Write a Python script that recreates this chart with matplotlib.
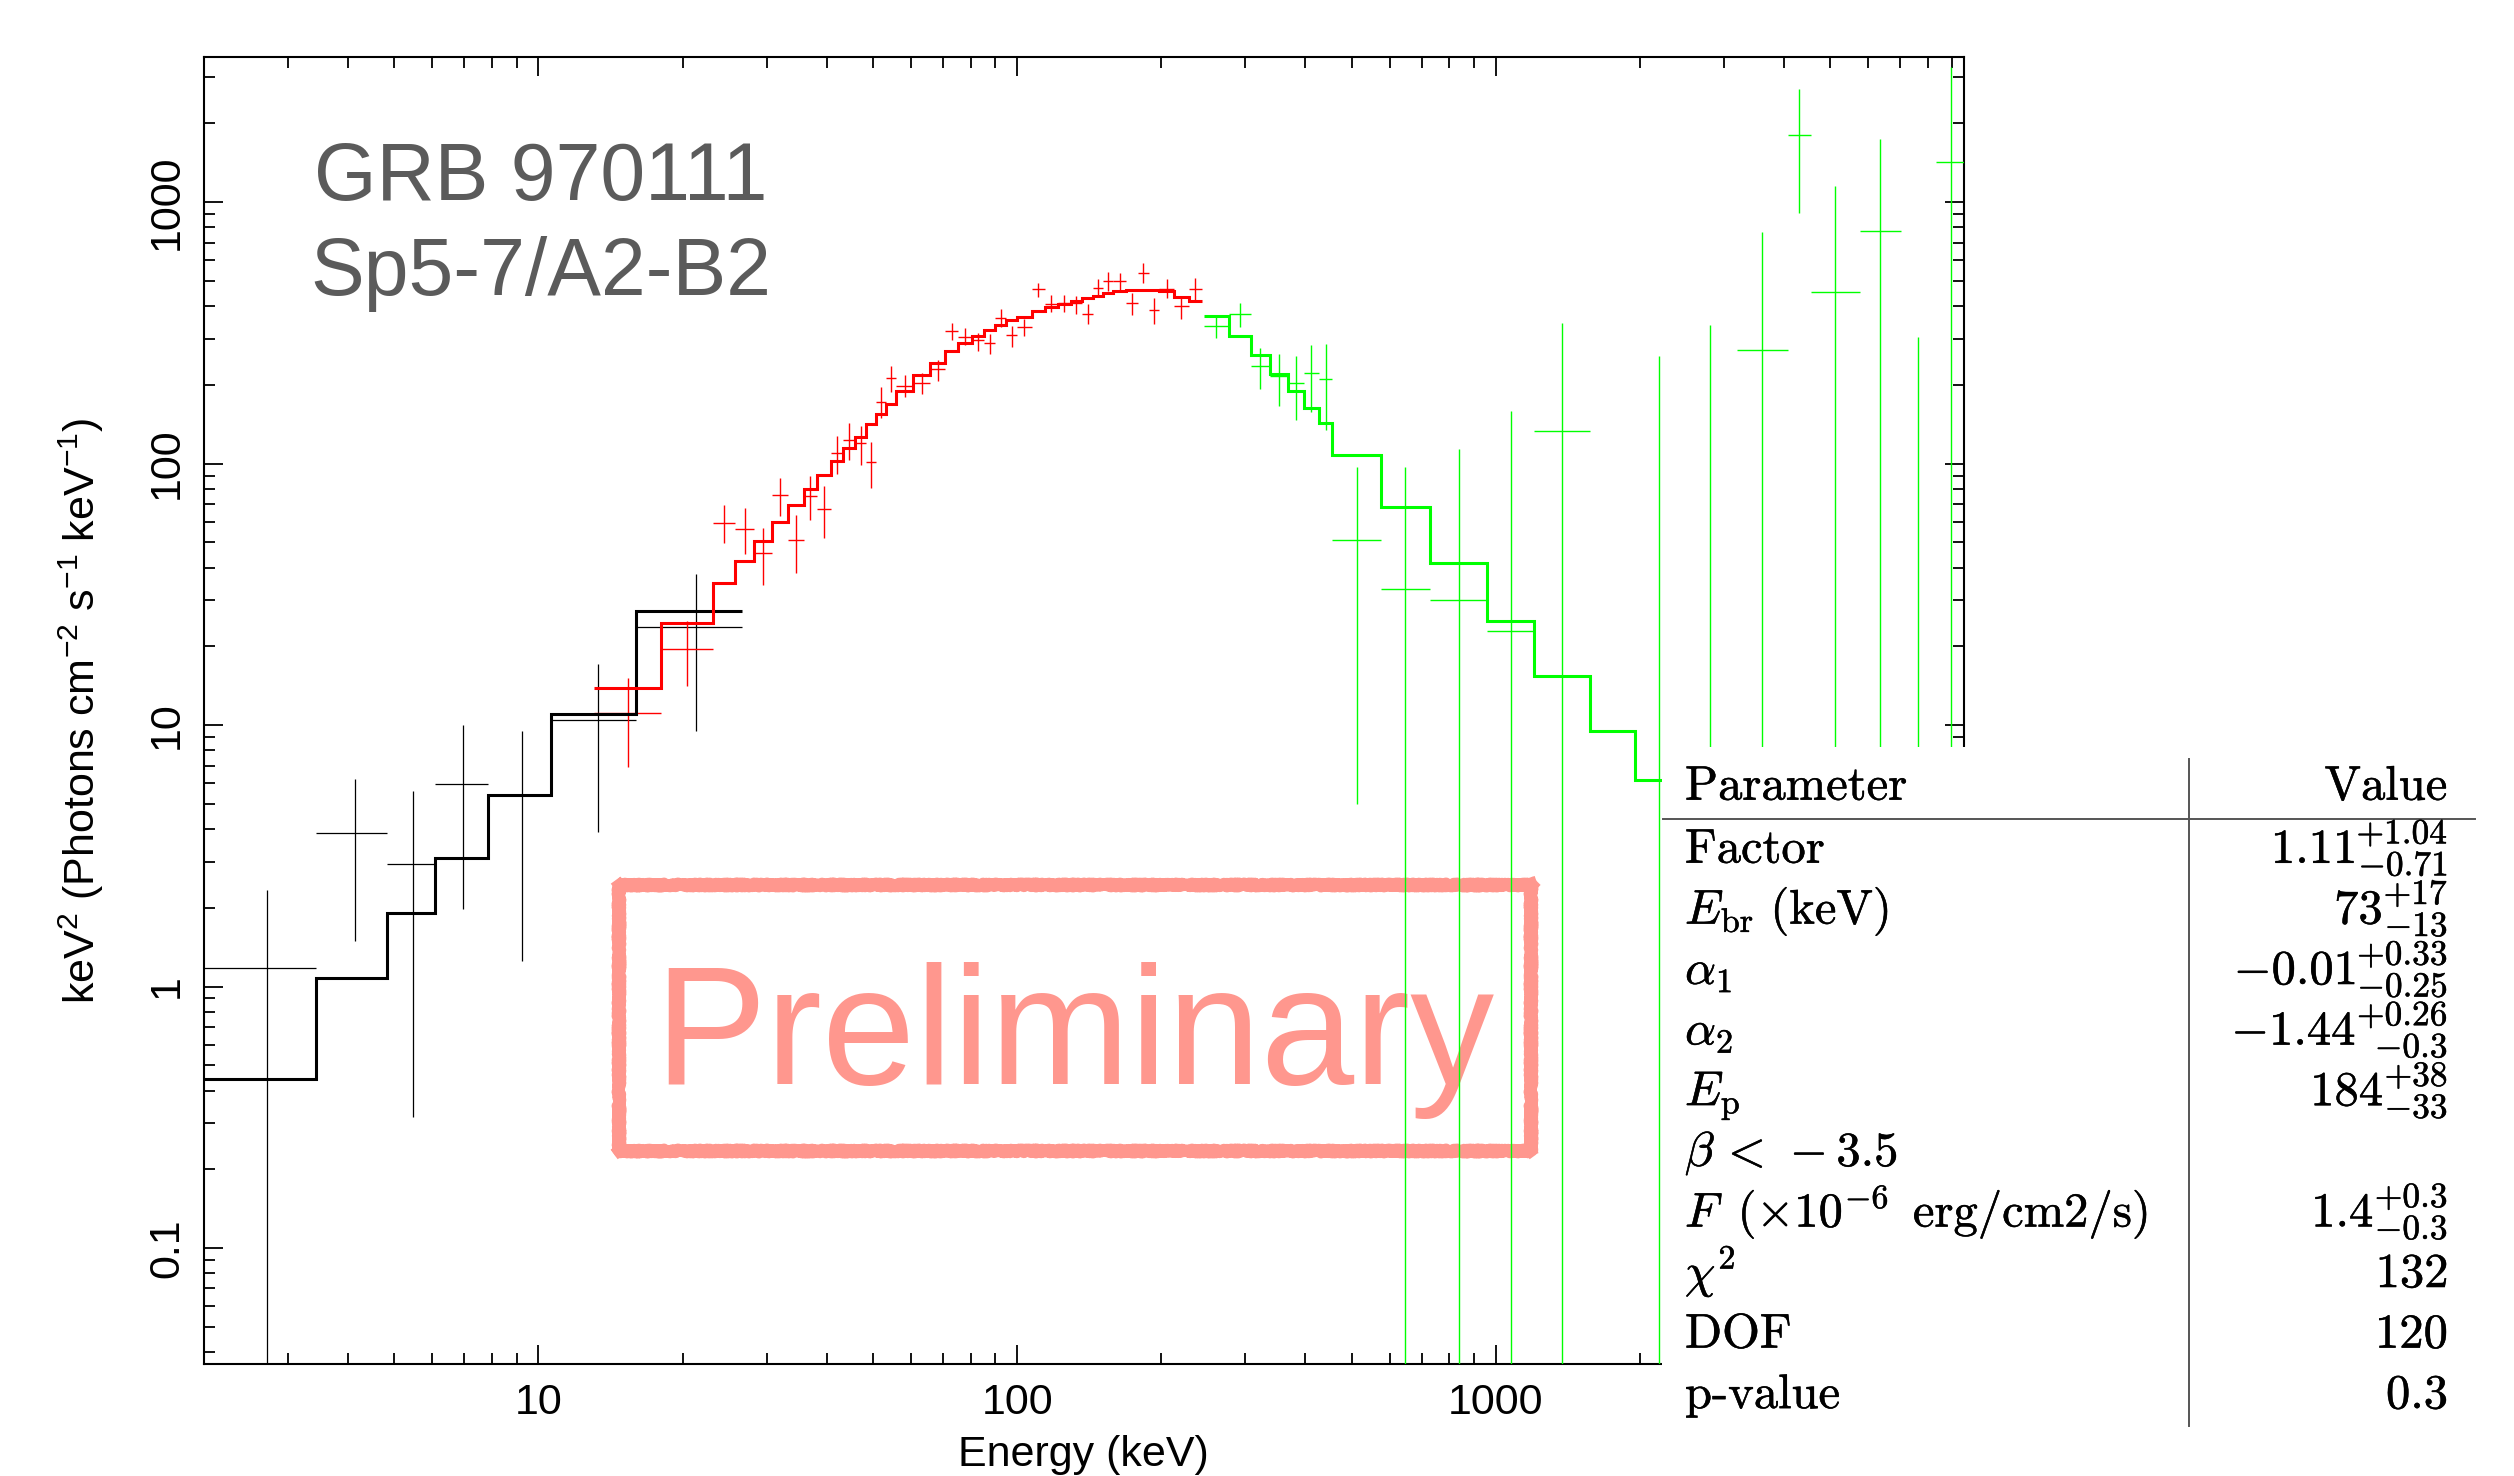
import numpy as np
import matplotlib
matplotlib.use("Agg")
import matplotlib.pyplot as plt
from matplotlib.patches import Rectangle
from matplotlib.lines import Line2D
from matplotlib import ticker
import matplotlib.patheffects as pe

# ---------------- data ----------------
# black instrument (low energy)
black_edges = [1.9, 3.43, 4.83, 6.09, 7.86, 10.64, 16.02, 26.6]
black_model = [0.442, 1.08, 1.91, 3.10, 5.40, 11.0, 27.3]
black_xc = [2.71, 4.13, 5.46, 6.97, 9.25, 13.3, 21.3]
black_y = [1.18, 3.87, 2.95, 5.97, 5.4, 10.45, 23.7]
black_yhi = [2.33, 6.22, 5.57, 10.0, 9.53, 17.1, 37.7]
black_ylo = [1e-3, 1.49, 0.317, 1.98, 1.25, 3.89, 9.45]

# red instrument
red_edges = [13.07, 18.06, 23.2, 25.8, 28.2, 30.8, 33.3, 35.8, 38.2, 40.9,
             43.2, 45.9, 48.4, 50.8, 53.3, 55.9, 60.6, 65.8, 70.7, 75.4,
             80.4, 85.3, 90.1, 95.0, 99.9, 107.2, 114.4, 121.7, 129.5, 136.6,
             144.2, 151.1, 159.0, 169.0, 178.5, 188.2, 198.1, 212.6, 228.2, 243.2]
red_model = [13.85, 24.5, 34.9, 42.4, 50.6, 59.7, 69.5, 79.8, 90.5, 102.7,
             114.5, 126.9, 141.5, 154.9, 168.7, 190.2, 218.4, 243.4, 269.2, 290.4,
             308, 324.8, 339.4, 353.8, 364, 383.8, 398.7, 409.4, 419.2, 430.4,
             437.9, 448.4, 459, 463, 463, 463, 459, 434, 417]
red_y = [11.1, 19.6, 59.5, 56.1, 45.4, 75.9, 51.1, 75.2, 67.1, 110.2,
         123.2, 120.3, 101.5, 171.7, 213.3, 198.9, 203.0, 229.6, 322.8, 306.2,
         297.4, 288.7, 360.9, 309.0, 333.4, 464.6, 408.3, 410.7, 410.7, 373.8,
         471.4, 501.4, 497.1, 410.7, 538.0, 387.3, 464.6, 398.9, 466.0]
red_yhi = [15.2, 25.0, 69.6, 67.5, 56.6, 88.4, 63.6, 89.7, 82.2, 127.6,
           142.7, 139.8, 121.4, 196.0, 236.5, 218.5, 223.0, 249.3, 346.4, 331.4,
           317.2, 313.5, 390.7, 336.3, 357.8, 492.7, 442.0, 442.0, 438.1, 407.1,
           507.4, 541.2, 534.9, 448.6, 584.1, 429.1, 508.9, 435.5, 512.0]
red_ylo = [6.94, 14.1, 49.6, 45.0, 34.2, 63.3, 38.1, 60.6, 52.1, 91.3,
           103.3, 98.9, 80.9, 149.2, 187.5, 180.5, 184.3, 207.8, 297.3, 283.7,
           269.9, 262.8, 332.4, 280.4, 308.1, 435.5, 381.5, 381.5, 373.8, 341.4,
           435.5, 459.2, 459.2, 370.6, 489.8, 342.4, 429.1, 356.7, 422.9]

# green instrument (high energy)
green_model_edges = [245.9, 276.6, 307.8, 336.9, 367.3, 396.7, 427.7, 456.0,
                     576.4, 727.3, 961.2, 1203, 1575, 1950, 2470]
green_model = [367.1, 308.8, 259.7, 219.9, 189.0, 163.1, 142.9, 107.6,
               68.4, 41.5, 24.9, 15.4, 9.46, 6.15]
green_lo = [245.9, 276.6, 307.8, 336.9, 367.3, 396.7, 427.7, 456.0, 576.4, 727.3,
            961.2, 1203, 1950, 2470, 3189, 4071, 4562, 5756, 7012, 8309]
green_hi = [276.6, 307.8, 336.9, 367.3, 396.7, 427.7, 456.0, 576.4, 727.3, 961.2,
            1203, 1575, 2470, 3189, 4071, 4562, 5756, 7012, 8309, 9600]
green_y = [336.1, 372.9, 235.6, 215.8, 203.2, 221.9, 211.0, 51.2, 33.1, 30.2,
           22.8, 132.9, 0.01, 1.0, 271.8, 1809, 453.5, 776.8, 1.0, 1429]
green_yhi = [364.8, 412.4, 277.5, 262.2, 258.9, 285.4, 287.2, 97.3, 97.0, 113.6,
             158.5, 345.8, 258, 337.4, 767.9, 2713, 1151, 1747, 306, 3300]
green_ylo = [302.1, 333.0, 193.2, 166.2, 146.9, 158.0, 134.2, 4.99, 1e-3, 1e-3,
             1e-3, 1e-3, 1e-3, 1e-3, 1e-3, 909, 1e-3, 1e-3, 1e-3, 1e-3]

x_ticks = [10, 100, 1000]
y_ticks = [0.1, 1, 10, 100, 1000]

param_labels = [r"$\mathrm{Factor}$", r"$E_\mathrm{br}\ (\mathrm{keV})$", r"$\alpha_1$",
                r"$\alpha_2$", r"$E_\mathrm{p}$", r"$\beta\,<\,-3.5$",
                r"$F\ \,(\times10^{-6}\ \,\mathrm{erg/cm2/s})$", r"$\chi^2$",
                r"$\mathrm{DOF}$", r"$\text{p-value}$"]
value_base = ["1.11", "73", "-0.01", "-1.44", "184", "", "1.4", "132", "120", "0.3"]
value_sup = ["+1.04", "+17", "+0.33", "+0.26", "+38", "", "+0.3", "", "", ""]
value_sub = ["-0.71", "-13", "-0.25", "-0.3", "-33", "", "-0.3", "", "", ""]

# ---------------- style ----------------
plt.rcParams["font.family"] = ["Liberation Sans", "DejaVu Sans"]
plt.rcParams["mathtext.fontset"] = "custom"
plt.rcParams["mathtext.rm"] = "Liberation Sans"
plt.rcParams["mathtext.it"] = "Liberation Sans:italic"
plt.rcParams["mathtext.bf"] = "Liberation Sans:bold"
plt.rcParams["mathtext.sf"] = "Liberation Sans"

W, H = 2514.0, 1476.0
fig = plt.figure(figsize=(W / 100, H / 100), dpi=100)
ax = fig.add_axes([0.0811, 0.0759, 0.7000, 0.8857])
ax.set_xscale("log")
ax.set_yscale("log")
ax.set_xlim(2.0, 9500)
ax.set_ylim(0.036, 3600)


def draw_data(lo, hi, xc, y, ylo, yhi, color, lw, z):
    lo, hi, xc = np.asarray(lo), np.asarray(hi), np.asarray(xc)
    y, ylo, yhi = np.asarray(y), np.asarray(ylo), np.asarray(yhi)
    ax.errorbar(xc, y, xerr=[xc - lo, hi - xc], yerr=[y - ylo, yhi - y],
                fmt="none", ecolor=color, elinewidth=lw, capsize=0, zorder=z)


# black
be = np.asarray(black_edges)
draw_data(be[:-1], be[1:], black_xc, black_y, black_ylo, black_yhi, "black", 0.9, 3)
ax.stairs(black_model, black_edges, baseline=None, color="black", lw=2.2, zorder=4)

# red
re_ = np.asarray(red_edges)
red_xc = np.sqrt(re_[:-1] * re_[1:])
draw_data(re_[:-1], re_[1:], red_xc, red_y, red_ylo, red_yhi, "#ff0000", 1.0, 3)
ax.stairs(red_model, red_edges, baseline=None, color="#ff0000", lw=2.2, zorder=4)

# green
gl, gh = np.asarray(green_lo), np.asarray(green_hi)
green_xc = np.sqrt(gl * gh)
draw_data(gl, gh, green_xc, green_y, green_ylo, green_yhi, "#00ff00", 1.0, 3)
ax.stairs(green_model, green_model_edges, baseline=None, color="#00ff00", lw=2.2, zorder=4)

# axes styling
for s in ax.spines.values():
    s.set_linewidth(1.5)
ax.tick_params(which="both", direction="in", top=True, right=True, width=1.3)
ax.tick_params(which="major", length=13.7, labelsize=31)
ax.tick_params(which="minor", length=7.8)
ax.tick_params(axis="x", pad=13.5)
ax.tick_params(axis="y", pad=12, labelrotation=90)
ax.set_xticks(x_ticks)
ax.set_yticks(y_ticks)
fmt = ticker.FuncFormatter(lambda v, p: f"{v:g}")
ax.xaxis.set_major_formatter(fmt)
ax.yaxis.set_major_formatter(fmt)
ax.xaxis.set_minor_formatter(ticker.NullFormatter())
ax.yaxis.set_minor_formatter(ticker.NullFormatter())
ax.xaxis.set_minor_locator(ticker.LogLocator(base=10, subs=np.arange(2, 10), numticks=50))
ax.yaxis.set_minor_locator(ticker.LogLocator(base=10, subs=np.arange(2, 10), numticks=50))
plt.setp(ax.get_yticklabels(), va="center")

ax.set_xlabel("Energy (keV)", fontsize=31)
ax.xaxis.set_label_coords(0.5, -0.0545)
ax.set_ylabel(r"keV$^{2}$ (Photons cm$^{-2}$ s$^{-1}$ keV$^{-1}$)", fontsize=31)
ax.yaxis.set_label_coords(-0.0557, 0.5)

# annotation text
ax.text(0.1915, 0.8902, "GRB 970111", transform=ax.transAxes, ha="center",
        va="baseline", fontsize=58, color="#5b5b5b", zorder=2)
ax.text(0.1915, 0.8177, "Sp5-7/A2-B2", transform=ax.transAxes, ha="center",
        va="baseline", fontsize=58, color="#5b5b5b", zorder=2)

salmon = "#ff978e"
bx0, bx1, by0, by1 = 0.2358, 0.7541, 0.1629, 0.3664
for xs, ys in [([bx0, bx1], [by1, by1]), ([bx0, bx1], [by0, by0]),
               ([bx0, bx0], [by0, by1]), ([bx1, bx1], [by0, by1])]:
    ln, = ax.plot(xs, ys, transform=ax.transAxes, color=salmon, lw=8.5,
                  solid_capstyle="projecting", zorder=1)
    ln.set_sketch_params(1.6, 3, 2.0)
ax.text(0.4947, 0.2142, "Preliminary", transform=ax.transAxes, ha="center",
        va="baseline", fontsize=121, color=salmon, zorder=1)

# ---------------- parameter table ----------------
fig.add_artist(Rectangle((0.6611, 0.0), 1 - 0.6611, 0.4939, transform=fig.transFigure,
                         facecolor="white", edgecolor="none", zorder=5))
fig.add_artist(Line2D([0.6615, 0.9845], [0.4453, 0.4453], transform=fig.transFigure,
                      color="#555555", lw=1.4, zorder=6))
fig.add_artist(Line2D([0.8707, 0.8707], [0.4858, 0.0339], transform=fig.transFigure,
                      color="#555555", lw=1.4, zorder=6))

renderer = fig.canvas.get_renderer()
xl_px, xr_px = 1685.0, 2448.0
heavy = [pe.withStroke(linewidth=0.35, foreground="black")]
tkw = dict(va="baseline", math_fontfamily="cm", zorder=7, path_effects=heavy)
fig.text(xl_px / W, 1 - 800 / H, r"$\mathrm{Parameter}$", ha="left", fontsize=35, **tkw)
fig.text(xr_px / W, 1 - 800 / H, r"$\mathrm{Value}$", ha="right", fontsize=35, **tkw)
for i, lab in enumerate(param_labels):
    base_y = 863 + 60.6 * i
    fig.text(xl_px / W, 1 - base_y / H, lab, ha="left", fontsize=35, **tkw)
    b, sp, sb = value_base[i], value_sup[i], value_sub[i]
    if not b:
        continue
    if sp:
        t1 = fig.text(xr_px / W, 1 - (base_y - 19.5) / H, f"${sp}$", ha="right",
                      fontsize=25.5, **tkw)
        t2 = fig.text(xr_px / W, 1 - (base_y + 12.5) / H, f"${sb}$", ha="right",
                      fontsize=25.5, **tkw)
        wmax = max(t1.get_window_extent(renderer).width,
                   t2.get_window_extent(renderer).width)
        fig.text((xr_px - wmax - 1) / W, 1 - base_y / H, f"${b}$", ha="right",
                 fontsize=35, **tkw)
    else:
        fig.text(xr_px / W, 1 - base_y / H, f"${b}$", ha="right", fontsize=35, **tkw)

fig.savefig("out.png", dpi=100, facecolor="white")
